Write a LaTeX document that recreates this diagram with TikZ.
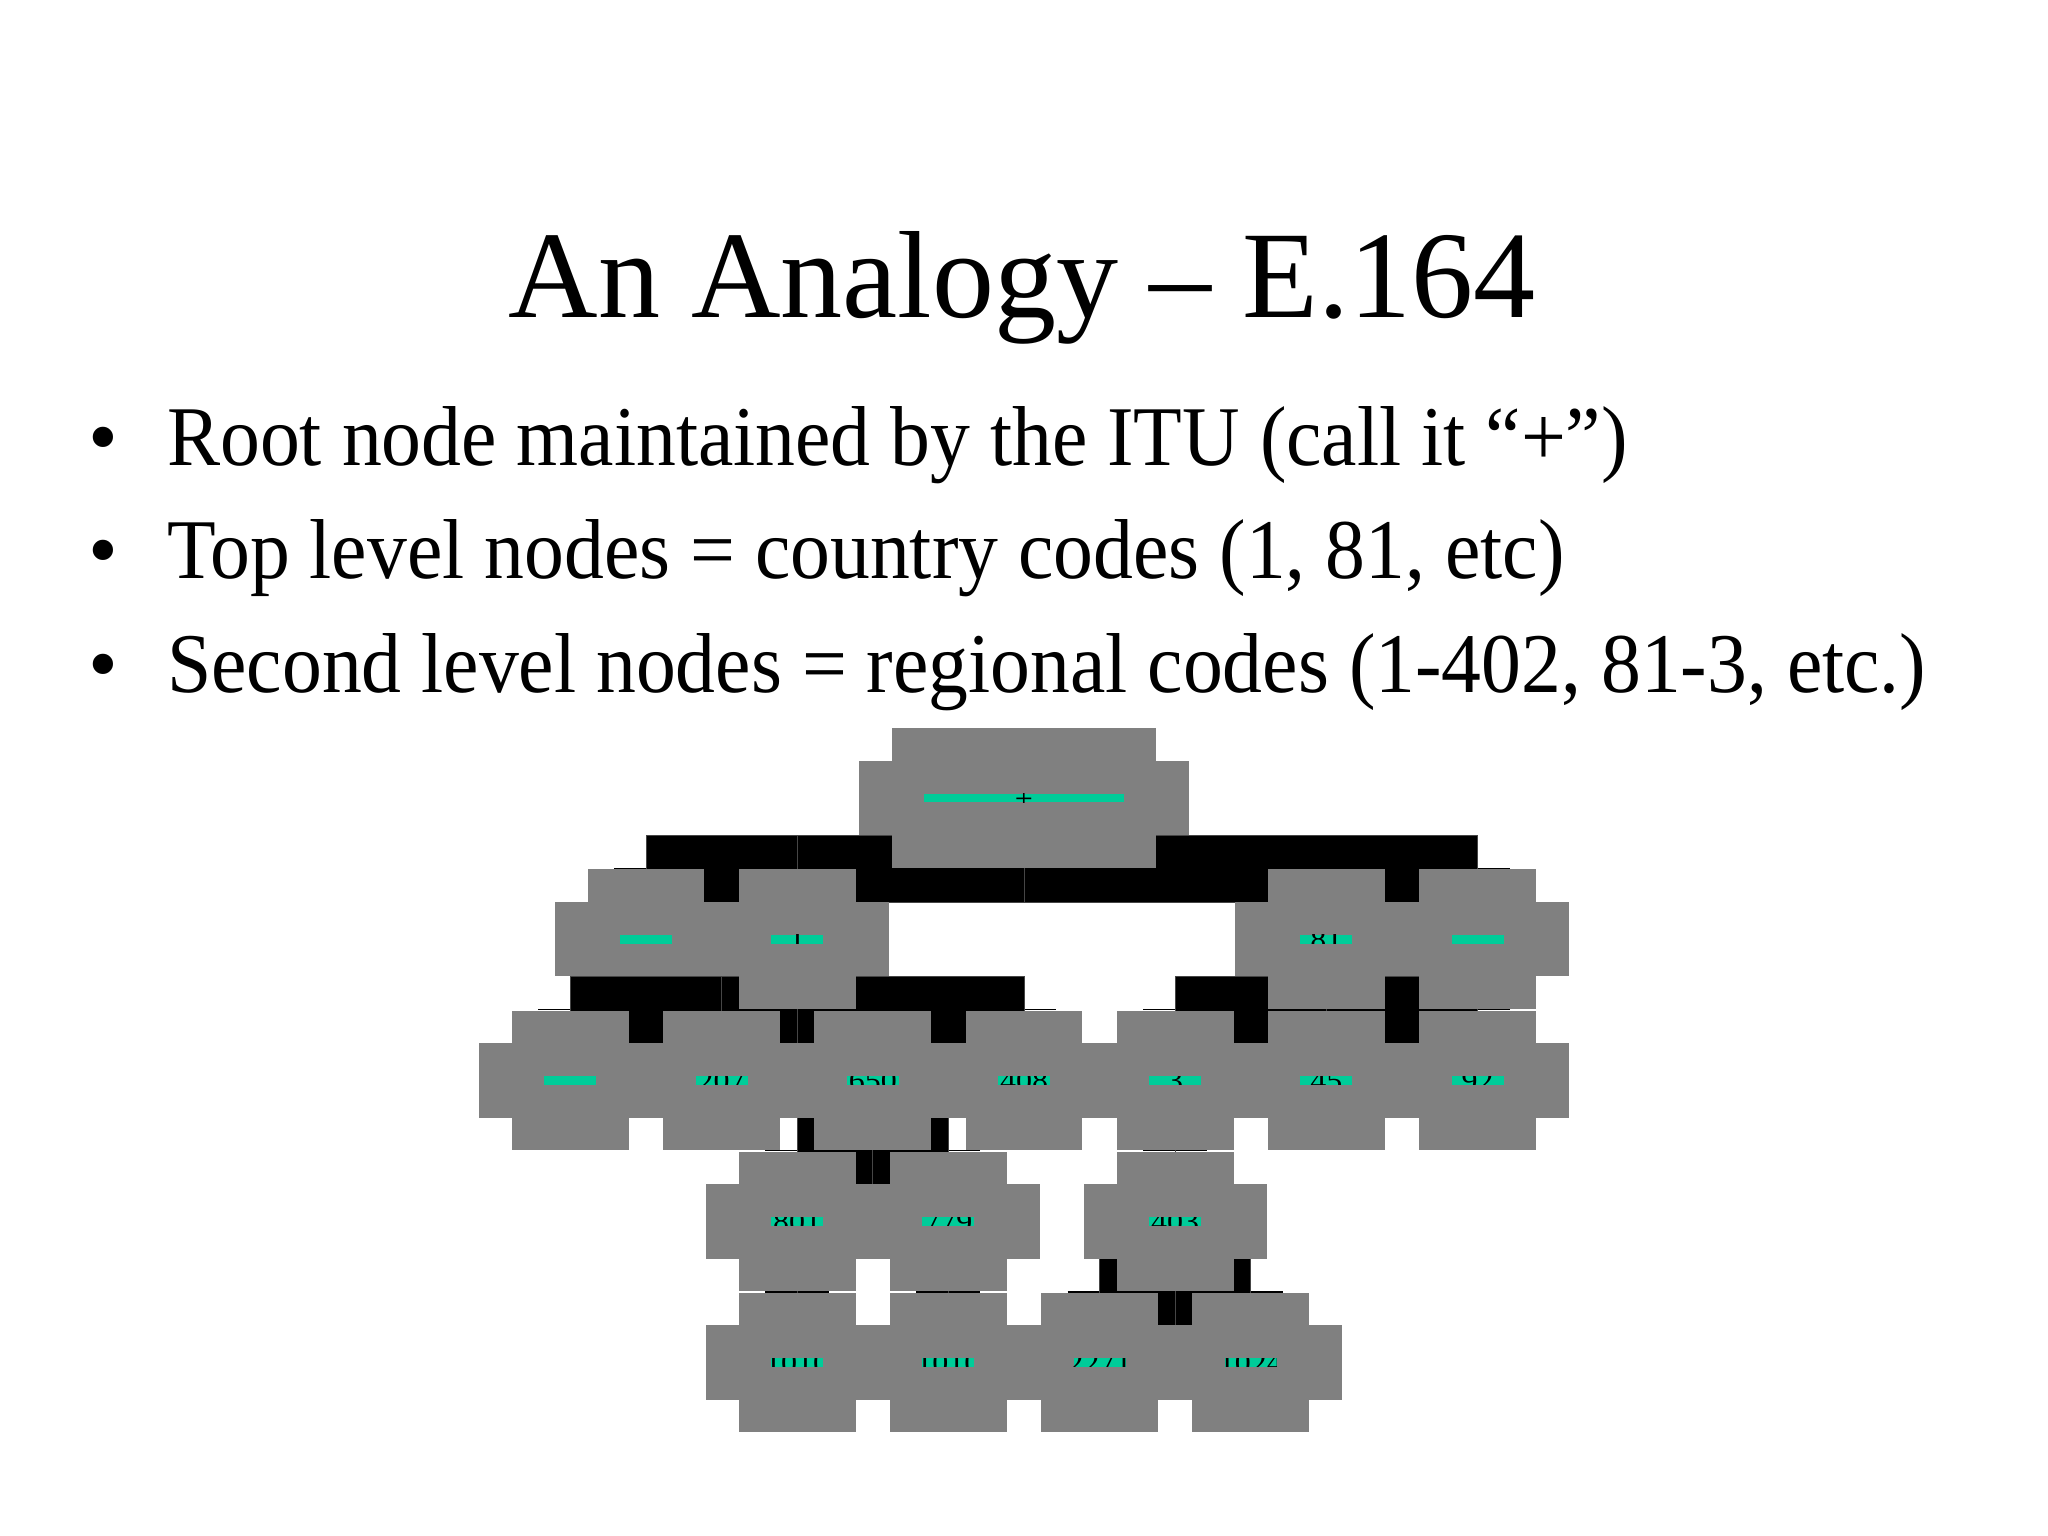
\documentclass[tikz,border=0pt]{standalone}
\usepackage{fontspec}
\setmainfont{Liberation Serif}
\newfontfamily\bulletfont[FakeStretch=0.937]{Liberation Serif}
\usetikzlibrary{calc}
\definecolor{nodegray}{RGB}{128,128,128}
\definecolor{bargreen}{RGB}{0,204,153}
\definecolor{seamgray}{RGB}{70,70,70}
\tikzset{
  conn/.style={fill=black, draw=seamgray, line width=0.9pt},
  toptick/.style={draw=black, line width=1.5pt},
  lbl/.style={inner sep=0pt, anchor=base, font=\fontsize{32}{32}\selectfont},
  txt/.style={inner sep=0pt, anchor=base west, font=\bulletfont\fontsize{85}{100}\selectfont},
  bul/.style={inner sep=0pt, anchor=base, font=\fontsize{85}{100}\selectfont},
  slot/.style={inner sep=0pt, minimum height=139.2pt},
}
% cross-shaped node: name, bar half width, label
\newcommand\drawcross[3]{%
  \fill[nodegray] (#1.south west) rectangle (#1.north east);
  \fill[nodegray] ([xshift=-33pt,yshift=32.6pt]#1.south west) rectangle ([xshift=33pt,yshift=-32.6pt]#1.north east);
  \fill[bargreen] ([xshift=-#2pt,yshift=-4.3pt]#1.center) rectangle ([xshift=#2pt,yshift=4.3pt]#1.center);
  \begin{scope}
    \clip ([xshift=-#2pt,yshift=-4.3pt]#1.center) rectangle ([xshift=#2pt,yshift=4.3pt]#1.center);
    \node[lbl] (#1-lbl) at ([yshift=-11pt]#1.center) {#3};
  \end{scope}
}
% connector block: parent, child
\newcommand\edgeblock[2]{%
  \draw[toptick] ([xshift=-32pt,yshift=0.95pt]#2.north) -- ([xshift=32pt,yshift=0.95pt]#2.north);
  \path[conn] ($(#2.center |- #1.south)+(0,-32.6)$) rectangle ($(#1.center |- #2.north)+(0,32.6)$);
}
\begin{document}
\begin{tikzpicture}[x=1pt,y=-1pt]
\fill[white] (0,0) rectangle (2048,1536);
\useasboundingbox (0,0) rectangle (2048,1536);

% texts
\node[inner sep=0pt, anchor=base, font=\fontsize{124}{140}\selectfont] (title) at (1022,317.4) {An Analogy – E.164};
\node[bul] (u1) at (103,465) {•};
\node[txt] (t1) at (167,465) {Root node maintained by the ITU (call it “+”)};
\node[bul] (u2) at (103,578.6) {•};
\node[txt] (t2) at (167,578.6) {Top level nodes = country codes (1, 81, etc)};
\node[bul] (u3) at (103,692.2) {•};
\node[txt] (t3) at (167,692.2) {Second level nodes = regional codes (1-402, 81-3, etc.)};

% node slots
\node[slot, minimum width=264pt] (root) at (1024.0,798.1) {};
\node[slot, minimum width=116.5pt] (A) at (646.0,939.2) {};
\node[slot, minimum width=116.5pt] (B) at (797.2,939.2) {};
\node[slot, minimum width=116.5pt] (C) at (1326.4,939.2) {};
\node[slot, minimum width=116.5pt] (D) at (1477.6,939.2) {};
\node[slot, minimum width=116.5pt] (N1) at (570.4,1080.3) {};
\node[slot, minimum width=116.5pt] (N2) at (721.6,1080.3) {};
\node[slot, minimum width=116.5pt] (N3) at (872.8,1080.3) {};
\node[slot, minimum width=116.5pt] (N4) at (1024.0,1080.3) {};
\node[slot, minimum width=116.5pt] (N5) at (1175.2,1080.3) {};
\node[slot, minimum width=116.5pt] (N6) at (1326.4,1080.3) {};
\node[slot, minimum width=116.5pt] (N7) at (1477.6,1080.3) {};
\node[slot, minimum width=116.5pt] (M1) at (797.2,1221.4) {};
\node[slot, minimum width=116.5pt] (M2) at (948.4,1221.4) {};
\node[slot, minimum width=116.5pt] (M3) at (1175.2,1221.4) {};
\node[slot, minimum width=116.5pt] (L1) at (797.2,1362.5) {};
\node[slot, minimum width=116.5pt] (L2) at (948.4,1362.5) {};
\node[slot, minimum width=116.5pt] (L3) at (1099.6,1362.5) {};
\node[slot, minimum width=116.5pt] (L4) at (1250.8,1362.5) {};

% drawing, in stacking order
\edgeblock{root}{A}
\edgeblock{root}{B}
\edgeblock{root}{C}
\edgeblock{root}{D}
\drawcross{root}{100}{+}
\drawcross{A}{26}{...}
\edgeblock{B}{N1}
\edgeblock{B}{N2}
\edgeblock{B}{N3}
\edgeblock{B}{N4}
\drawcross{B}{26}{1}
\edgeblock{C}{N5}
\edgeblock{C}{N6}
\edgeblock{C}{N7}
\drawcross{C}{26}{81}
\drawcross{D}{26}{...}
\edgeblock{N3}{M1}
\edgeblock{N3}{M2}
\edgeblock{N5}{M3}
\drawcross{N1}{26}{...}
\drawcross{N2}{26}{207}
\drawcross{N3}{26}{650}
\drawcross{N4}{26}{408}
\drawcross{N5}{26}{3}
\drawcross{N6}{26}{45}
\drawcross{N7}{26}{92}
\edgeblock{M1}{L1}
\edgeblock{M2}{L2}
\edgeblock{M3}{L3}
\edgeblock{M3}{L4}
\drawcross{M1}{26}{801}
\drawcross{M2}{26}{779}
\drawcross{M3}{26}{403}
\drawcross{L1}{26}{1010}
\drawcross{L2}{26}{1010}
\drawcross{L3}{26}{2271}
\drawcross{L4}{26}{1024}
\end{tikzpicture}
\end{document}
